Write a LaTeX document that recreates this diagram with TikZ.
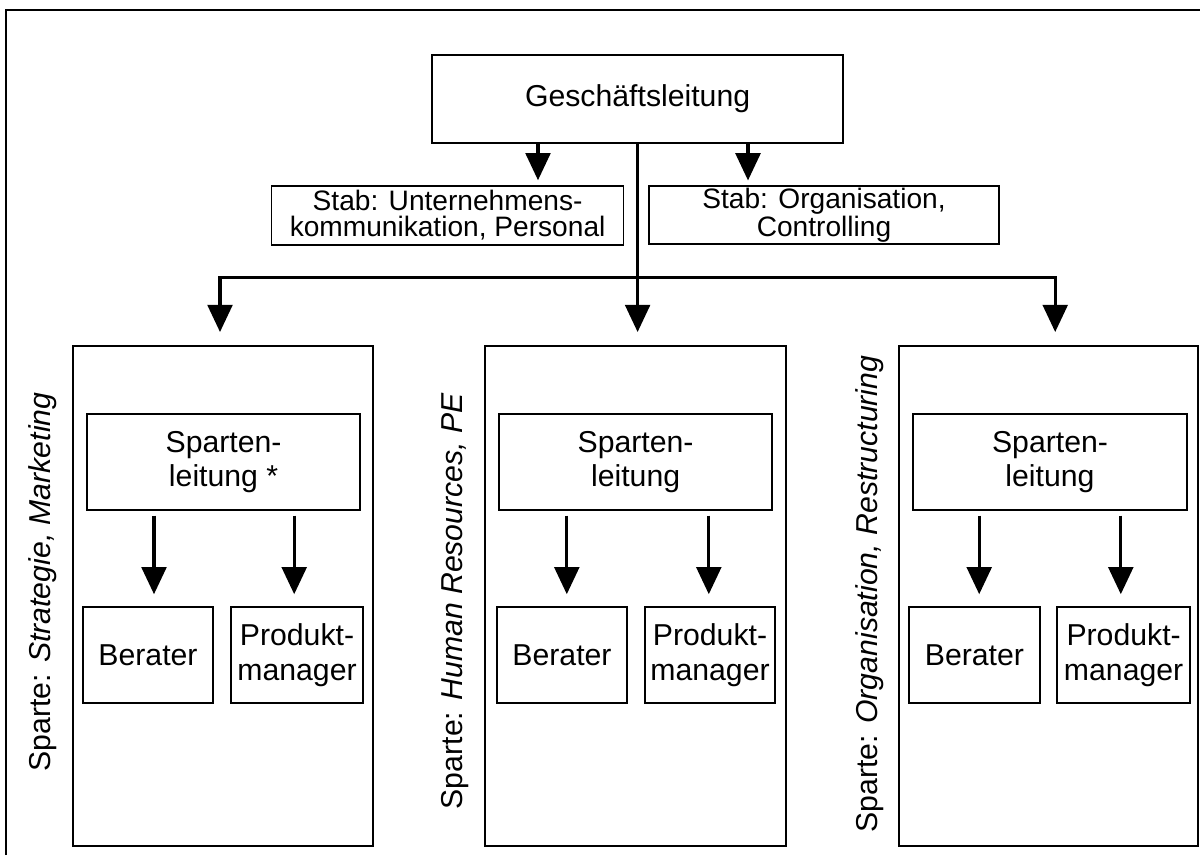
\documentclass[tikz,border=0pt]{standalone}
\usepackage{fontspec}
\setmainfont{Liberation Sans}
\usetikzlibrary{arrows.meta}

\begin{document}
\begin{tikzpicture}[
   box/.style={draw,line width=1.1pt,inner sep=0pt,align=center},
   line/.style={line width=2.2pt},
   arr/.style={line width=2.2pt,-{Triangle[width=0.62cm,length=0.68cm]}},
   big/.style={font=\fontsize{21.5}{24.5}\selectfont},
   small/.style={font=\fontsize{20}{18.6}\selectfont}
  ]
   \useasboundingbox (0,0) rectangle (30,21.375);
   \draw[line width=1.4pt] (0.15,0) -- (0.15,21.125) -- (30,21.125);

   % top
   \node[box,big,minimum width=10.28cm,minimum height=2.2cm] (gl) at (15.94,18.9) {Geschäftsleitung};
   \node[box,small,minimum width=8.8cm,minimum height=1.48cm] (stabL) at (11.19,15.99) {Stab: Unternehmens-\\kommunikation, Personal};
   \node[box,small,minimum width=8.75cm,minimum height=1.45cm] (stabR) at (20.6,16.0) {Stab: Organisation,\\Controlling};

   \draw[arr,shorten >=0.12cm] ([xshift=-2.49cm]gl.south) -- ([xshift=-2.49cm]gl.south |- stabL.north);
   \draw[arr,shorten >=0.12cm] ([xshift=2.76cm]gl.south) -- ([xshift=2.76cm]gl.south |- stabR.north);

   % sparten
   \node[box,minimum width=7.5cm,minimum height=12.5cm] (spL) at (5.57,6.475) {};
   \node[box,minimum width=7.525cm,minimum height=12.5cm] (spM) at (15.89,6.475) {};
   \node[box,minimum width=7.475cm,minimum height=12.5cm] (spR) at (26.21,6.475) {};

   \coordinate (bus) at (15.94,14.44);
   \draw[line] (gl.south) -- (bus);
   \draw[arr,shorten >=0.33cm] (bus) -- (bus |- spM.north);
   \draw[arr,shorten >=0.33cm] (bus) -| ([xshift=-0.07cm]spL.north);
   \draw[arr,shorten >=0.33cm] (bus) -| ([xshift=0.17cm]spR.north);

   \node[big,rotate=90] (labL) at (1.075,6.825) {Sparte: \textit{Strategie, Marketing}};
   \node[big,rotate=90] (labM) at (11.375,6.35) {Sparte: \textit{Human Resources, PE}};
   \node[big,rotate=90] (labR) at (21.75,6.525) {Sparte: \textit{Organisation, Restructuring}};

   % left
   \node[box,big,minimum width=6.825cm,minimum height=2.4cm] (slL) at (5.59,9.825) {Sparten-\\leitung *};
   \node[box,big,minimum width=3.25cm,minimum height=2.4cm] (berL) at (3.7,5.0) {Berater};
   \node[box,big,minimum width=3.3cm,minimum height=2.4cm] (pmL) at (7.425,5.0) {Produkt-\\manager};
   \draw[arr,shorten <=0.12cm,shorten >=0.3cm] ([xshift=0.15cm]berL.north |- slL.south) -- ([xshift=0.15cm]berL.north);
   \draw[arr,shorten <=0.12cm,shorten >=0.3cm] ([xshift=-0.07cm]pmL.north |- slL.south) -- ([xshift=-0.07cm]pmL.north);

   % middle
   \node[box,big,minimum width=6.825cm,minimum height=2.4cm] (slM) at (15.89,9.825) {Sparten-\\leitung};
   \node[box,big,minimum width=3.25cm,minimum height=2.4cm] (berM) at (14.05,5.0) {Berater};
   \node[box,big,minimum width=3.25cm,minimum height=2.4cm] (pmM) at (17.75,5.0) {Produkt-\\manager};
   \draw[arr,shorten <=0.12cm,shorten >=0.3cm] ([xshift=0.12cm]berM.north |- slM.south) -- ([xshift=0.12cm]berM.north);
   \draw[arr,shorten <=0.12cm,shorten >=0.3cm] ([xshift=-0.03cm]pmM.north |- slM.south) -- ([xshift=-0.03cm]pmM.north);

   % right
   \node[box,big,minimum width=6.85cm,minimum height=2.4cm] (slR) at (26.25,9.825) {Sparten-\\leitung};
   \node[box,big,minimum width=3.275cm,minimum height=2.4cm] (berR) at (24.36,5.0) {Berater};
   \node[box,big,minimum width=3.325cm,minimum height=2.4cm] (pmR) at (28.09,5.0) {Produkt-\\manager};
   \draw[arr,shorten <=0.12cm,shorten >=0.3cm] ([xshift=0.12cm]berR.north |- slR.south) -- ([xshift=0.12cm]berR.north);
   \draw[arr,shorten <=0.12cm,shorten >=0.3cm] ([xshift=-0.07cm]pmR.north |- slR.south) -- ([xshift=-0.07cm]pmR.north);
  \end{tikzpicture}
\end{document}
